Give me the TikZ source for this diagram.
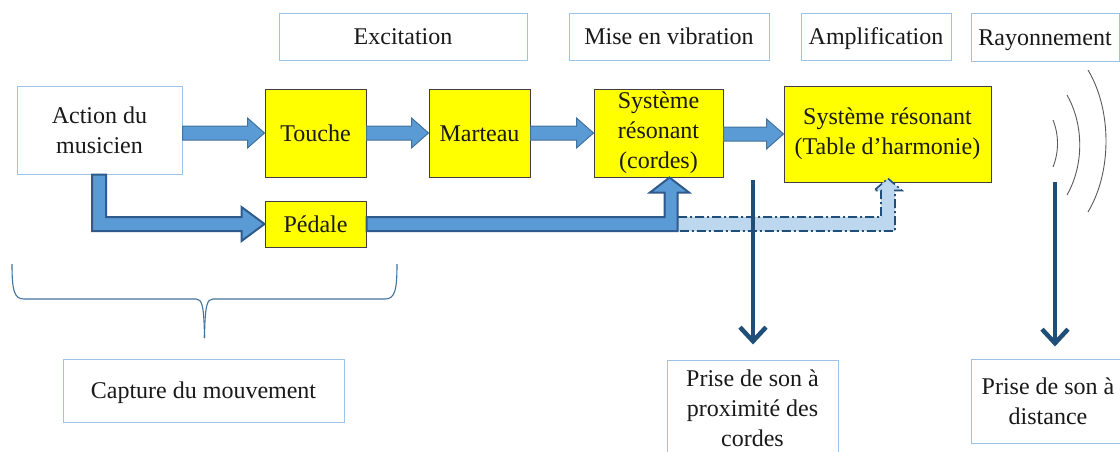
\documentclass[tikz,border=0pt]{standalone}
\usepackage{fontspec}
\setmainfont{Liberation Serif}
\usetikzlibrary{calc,arrows.meta}
\definecolor{boxline}{HTML}{9DC3E6}
\definecolor{arrfill}{HTML}{5B9BD5}
\definecolor{arrline}{HTML}{41719C}
\definecolor{darkarr}{HTML}{2E5B8C}
\definecolor{lightarr}{HTML}{BDD7EE}
\definecolor{navy}{HTML}{1F4E79}
\definecolor{yel}{HTML}{FFFF00}
\definecolor{arcgray}{HTML}{595959}
\newcommand\harrow[2]{\draw[barrow] ($(#1.east |- #2.west)+(0,7)$) -- ($(#2.west)+(-17,7)$) -- ($(#2.west)+(-17,15)$) -- (#2.west) -- ($(#2.west)+(-17,-15)$) -- ($(#2.west)+(-17,-7)$) -- ($(#1.east |- #2.west)+(0,-7)$) -- cycle;}
\begin{document}
\begin{tikzpicture}[x=1pt,y=1pt,
  every node/.style={font=\fontsize{24}{30}\selectfont, align=center, inner sep=0pt, text=black!90},
  one/.style={text height=21pt, text depth=5pt},
  wbox/.style={draw=boxline, line width=1pt, fill=white},
  ybox/.style={draw=black!75, line width=1pt, fill=yel},
  barrow/.style={fill=arrfill, draw=arrline, line width=1pt},
  larrow/.style={fill=arrfill, draw=darkarr, line width=2pt, line join=miter},
  dlarrow/.style={fill=lightarr, draw=none},
  dlline/.style={draw=navy, line width=1.6pt, dash pattern=on 9pt off 3pt on 2pt off 3pt},
  pickup/.style={draw=navy, line width=4.5pt, -{Straight Barb[length=14pt,width=26pt]}},
  wave/.style={draw=arcgray, line width=0.9pt},
  brace/.style={draw=arrline, line width=1.1pt}]
\useasboundingbox (0,0) rectangle (1120,-451);
\clip (0,0) rectangle (1120,-451);

% top labels
\node[wbox, one, minimum width=248pt, minimum height=47pt] (excit) at (403,-36.5) {Excitation};
\node[wbox, one, minimum width=200pt, minimum height=47pt] (mise) at (669,-36.5) {Mise en vibration};
\node[wbox, one, minimum width=150pt, minimum height=47pt] (ampl) at (876,-36.5) {Amplification};
\node[wbox, one, minimum width=148pt, minimum height=48pt] (rayon) at (1045,-37) {Rayonnement};

% main chain
\node[wbox, minimum width=165pt, minimum height=88pt] (act) at (99.5,-130) {Action du\\musicien};
\node[ybox, one, minimum width=101pt, minimum height=88pt] (touche) at (315.5,-133) {Touche};
\node[ybox, one, minimum width=101pt, minimum height=88pt] (marteau) at (479.5,-133) {Marteau};
\node[ybox, minimum width=129pt, minimum height=88pt] (cordes) at (658.5,-133) {Système\\résonant\\(cordes)};
\node[ybox, minimum width=207pt, minimum height=96pt] (table) at (887.5,-134) {Système résonant\\(Table d’harmonie)};
\node[ybox, one, minimum width=101pt, minimum height=46pt] (pedale) at (315.5,-224) {Pédale};

% bottom boxes
\node[wbox, minimum width=171pt, minimum height=96pt] (prox) at (752.5,-408) {Prise de son à\\proximité des\\cordes};
\node[wbox, minimum width=154pt, minimum height=84pt] (dist) at (1048,-401) {Prise de son à\\distance};
\node[wbox, one, minimum width=281pt, minimum height=63pt] (capture) at (203.5,-390.5) {Capture du mouvement};

% horizontal block arrows
\harrow{act}{touche}
\harrow{touche}{marteau}
\harrow{marteau}{cordes}
\harrow{cordes}{table}

% reference points
\coordinate (pr) at (pedale.east);
\coordinate (c0) at (cordes.south);
\coordinate (t0) at (table.south);

% dashed light arrow to the soundboard
\coordinate (dl) at ($(c0 |- pr)+(19.5,-7)$);
\fill[dlarrow] ($(dl)+(0,14)$) -- ($(t0 |- pr)+(-6.5,7)$) -- ($(t0)+(-6.5,-8)$) -- ($(t0)+(-13.5,-8)$) -- ($(t0)+(0.5,4)$) -- ($(t0)+(14.5,-8)$) -- ($(t0)+(7.5,-8)$) -- ($(t0 |- pr)+(7.5,-7)$) -- (dl) -- cycle;
\draw[dlline] ($(dl)+(0,14)$) -- ($(t0 |- pr)+(-6.5,7)$) -- ($(t0)+(-6.5,-8)$) -- ($(t0)+(-13.5,-8)$) -- ($(t0)+(0.5,4)$) -- ($(t0)+(14.5,-8)$) -- ($(t0)+(7.5,-8)$) -- ($(t0 |- pr)+(7.5,-7)$) -- (dl);

% L-shaped arrows
\coordinate (a1) at ($(act.south)+(-7.5,0)$);
\coordinate (a2) at ($(act.south)+(6.5,0)$);
\draw[larrow] (a1) -- ($(a1 |- pedale.west)+(0,-7)$) -- ($(pedale.west)+(-23,-7)$) -- ($(pedale.west)+(-23,-17)$) -- (pedale.west) -- ($(pedale.west)+(-23,17)$) -- ($(pedale.west)+(-23,7)$) -- ($(a2 |- pedale.west)+(0,7)$) -- (a2) -- cycle;
\draw[larrow] ($(pr)+(0,7)$) -- ($(c0 |- pr)+(6,7)$) -- ($(c0)+(6,-15)$) -- ($(c0)+(-8.5,-15)$) -- ($(c0)+(11,0)$) -- ($(c0)+(30.5,-15)$) -- ($(c0)+(19,-15)$) -- ($(c0 |- pr)+(19,-7)$) -- ($(pr)+(0,-7)$) -- cycle;

% sound pick-up arrows
\coordinate (m1) at (753,-180);
\coordinate (m2) at (1055,-182);
\draw[pickup] (m1) -- ($(prox.north -| m1)+(0,15)$);
\draw[pickup] (m2) -- ($(dist.north -| m2)+(0,12)$);

% radiation waves
\draw[wave] (1053,-120) .. controls (1059,-135) and (1059,-152) .. (1053,-167);
\draw[wave] (1067,-95) .. controls (1084,-125) and (1084,-165) .. (1067,-195);
\draw[wave] (1088,-70) .. controls (1112,-110) and (1112,-172) .. (1088,-212);

% brace
\draw[brace] (12,-264) .. controls (12,-290) and (14,-299) .. (24,-299) -- (196,-299) .. controls (202,-299) and (204,-305) .. (204.5,-338);
\draw[brace] (204.5,-338) .. controls (205,-305) and (207,-299) .. (213,-299) -- (385,-299) .. controls (395,-299) and (397,-290) .. (397,-264);
\end{tikzpicture}
\end{document}
